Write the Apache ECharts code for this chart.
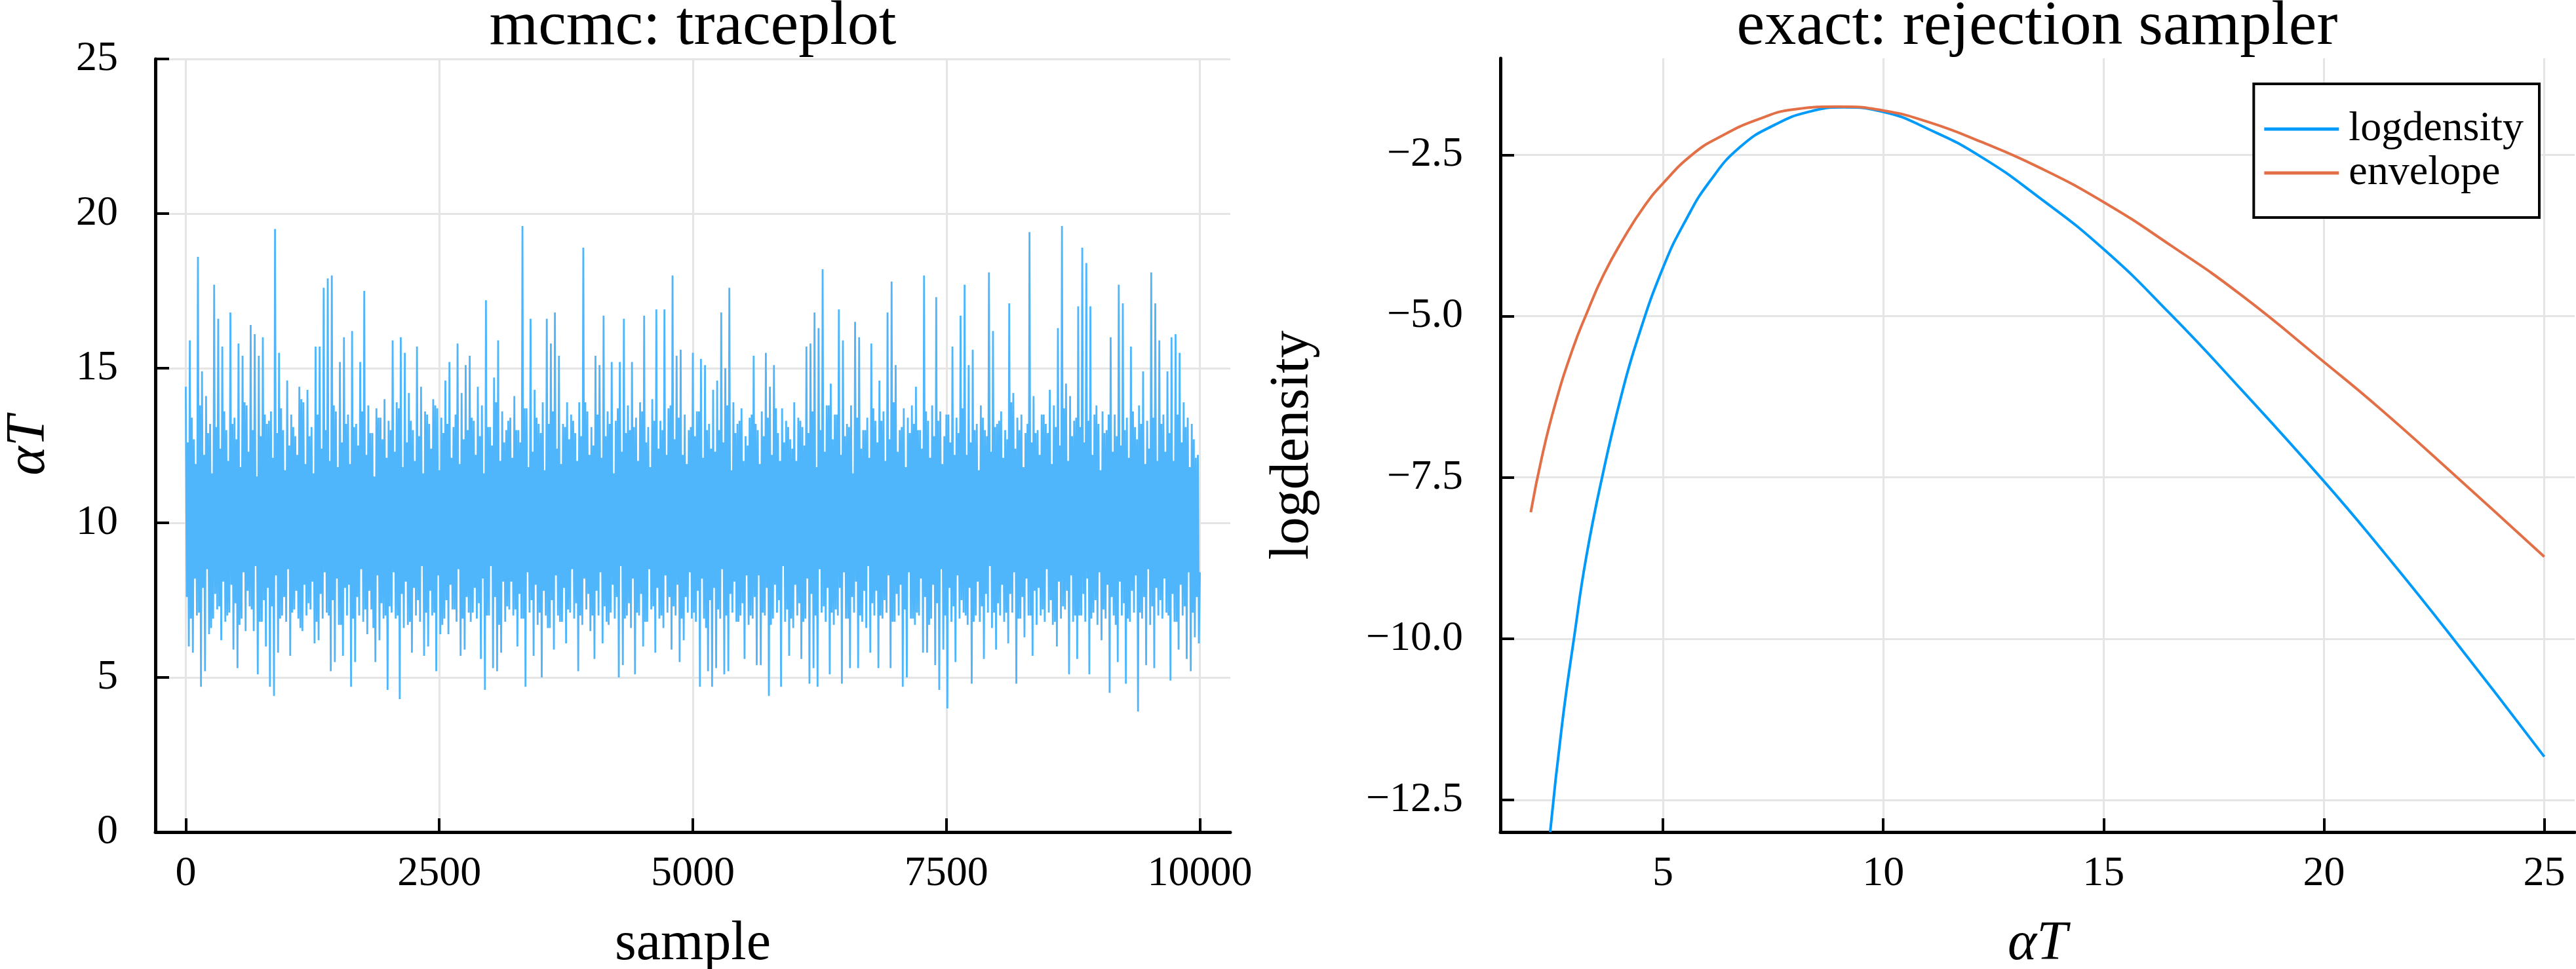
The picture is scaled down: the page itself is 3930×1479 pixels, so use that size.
<!DOCTYPE html>
<html>
<head>
<meta charset="utf-8">
<script src="https://cdn.jsdelivr.net/npm/echarts@6.0.0/dist/echarts.min.js"></script>
<style>
html, body { margin: 0; padding: 0; background: #fff; }
#chart { width: 3930px; height: 1479px; }
</style>
</head>
<body>
<div id="chart"></div>
<script>
// mcmc trace, one value every 10 samples
const traceStep = 10;
const traceValues = [
  14.4,7.6,12.6,6.0, 15.9,6.9,13.4,5.8, 12.7,8.2,11.9,7.0, 18.6,7.1,13.8,4.7, 14.9,7.9,12.2,5.2, 14.1,8.5,12.9,6.4, 13.2,6.6,11.6,6.9, 17.7,7.7,13.1,7.2, 16.6,7.3,12.4,6.2, 15.7,8.1,13.6,6.8,
  13.0,7.0,12.0,7.1, 16.8,8.0,13.2,5.9, 13.4,7.4,12.7,5.3, 15.8,6.7,11.8,6.9, 15.4,8.4,13.9,6.5, 13.8,7.8,12.3,7.3, 16.4,7.2,13.0,6.5, 16.1,8.6,11.5,5.1, 15.4,6.8,12.8,6.8, 16.0,7.5,13.5,6.0,
  13.2,7.9,13.3,4.7, 13.6,7.3,12.1,4.4, 19.5,8.3,12.9,5.8, 15.5,6.9,13.7,7.0, 13.0,7.6,11.7,6.8, 14.6,8.5,12.5,5.7, 13.5,7.1,13.1,7.2, 12.8,7.8,12.2,6.9, 14.4,6.6,14.0,6.5, 13.9,8.0,11.9,7.0,
  14.3,7.4,12.8,7.2, 13.1,8.1,11.6,6.1, 15.7,6.8,13.5,6.2, 15.7,7.7,12.4,6.9, 17.6,8.4,13.0,7.1, 17.9,7.0,12.0,5.2, 18.0,7.5,13.8,5.5, 13.6,8.2,11.8,6.7, 15.2,6.7,12.6,5.7, 16.0,7.9,13.2,7.0,
  13.5,8.0,11.9,4.7, 16.2,6.9,13.1,5.5, 13.2,7.6,12.5,7.0, 15.2,8.5,13.6,6.8, 17.5,7.2,12.2,6.4, 13.8,7.8,12.9,7.2, 12.9,6.6,11.5,5.5, 13.7,8.3,13.4,6.2, 13.4,7.4,12.7,6.9, 14.0,7.0,12.1,4.6,
  13.3,7.3,13.0,7.1, 15.9,8.4,12.3,6.9, 13.9,7.0,13.7,4.3, 16.0,7.7,11.8,6.6, 15.5,8.1,12.6,6.7, 14.2,6.8,13.3,5.8, 13.0,7.9,12.0,7.0, 15.7,7.5,12.8,6.8, 14.4,8.6,11.6,5.7, 13.6,7.1,13.5,6.0,
  13.2,7.8,12.4,7.0, 14.0,7.1,13.8,5.2, 13.7,8.3,11.7,6.4, 13.4,6.7,12.9,6.9, 14.6,7.5,13.2,6.4, 15.2,8.0,12.1,7.2, 13.1,7.2,13.5,6.8, 15.8,8.5,11.9,5.7, 14.2,6.9,12.7,5.9, 15.1,7.6,13.0,7.1,
  15.4,6.8,13.4,7.1, 13.3,7.9,12.2,6.9, 14.4,7.4,12.8,5.6, 13.8,8.2,11.6,4.6, 17.2,7.0,13.1,7.0, 13.1,8.6,12.5,5.3, 14.7,7.6,13.9,5.2, 15.9,6.7,12.0,5.8, 13.6,8.1,12.6,6.8, 13.0,7.3,13.3,7.2,
  13.4,8.1,12.1,7.0, 14.1,7.2,13.0,6.0, 13.0,7.7,12.6,6.9, 19.6,6.9,13.7,4.7, 13.7,8.4,11.8,7.1, 16.6,7.5,12.3,5.7, 14.3,8.0,13.4,6.7, 13.2,7.1,12.9,5.0, 13.9,7.8,11.7,7.0, 16.6,6.6,13.2,6.6,
  15.8,7.5,13.6,5.9, 16.8,8.3,12.4,7.0, 15.4,6.8,11.9,6.8, 13.2,7.9,13.1,6.1, 13.9,7.2,12.7,7.1, 13.5,8.5,13.3,6.9, 12.9,7.4,12.0,5.2, 13.9,7.0,12.8,6.7, 18.9,8.2,13.9,7.2, 13.6,7.7,12.2,6.5,
  13.1,7.0,12.5,5.6, 15.4,7.8,13.5,7.0, 15.1,8.4,12.1,6.1, 16.7,7.3,12.8,6.8, 13.6,6.7,13.2,7.1, 15.2,8.0,11.6,6.9, 13.3,7.6,13.7,5.0, 15.2,8.6,12.3,5.4, 16.6,6.9,12.9,7.0, 13.8,7.4,13.0,6.6,
  15.2,8.2,13.1,5.1, 13.4,7.1,12.0,7.0, 13.9,7.7,13.6,6.0, 16.7,6.8,12.6,6.8, 13.1,8.5,11.8,7.2, 14.0,7.3,13.3,5.8, 16.9,7.9,12.4,6.9, 13.3,7.0,13.0,6.6, 16.9,8.3,12.2,7.1, 13.7,7.6,13.8,5.9,
  18.0,7.3,12.7,7.0, 15.4,8.0,13.4,5.5, 15.6,6.9,12.2,6.2, 13.5,7.6,11.9,7.1, 13.0,8.4,13.1,6.9, 15.5,7.1,12.8,6.8, 13.6,7.8,13.6,4.7, 15.3,8.2,12.1,6.9, 15.1,6.6,13.0,5.2, 13.2,7.5,12.4,4.7,
  14.3,7.9,12.3,5.3, 14.6,7.2,13.0,6.9, 16.8,8.5,12.6,5.1, 15.0,7.0,13.8,5.2, 17.6,7.7,11.7,7.1, 13.9,8.1,12.9,6.8, 13.2,6.8,13.3,7.0, 13.7,7.4,12.0,5.6, 12.8,8.3,12.5,6.7, 13.4,7.0,13.5,6.9,
  15.4,7.6,13.2,5.4, 13.0,8.3,11.9,5.4, 13.6,7.1,12.8,7.0, 15.5,7.9,13.4,4.4, 14.4,6.7,12.2,6.9, 15.1,8.0,13.7,7.1, 12.9,7.5,12.0,4.7, 13.7,8.6,12.6,6.8, 13.3,7.2,13.1,5.7, 12.7,6.9,12.4,6.6,
  13.9,8.0,12.0,7.0, 13.4,7.4,13.3,5.6, 13.1,6.8,12.5,6.9, 15.7,8.2,12.9,4.8, 15.8,7.7,13.6,5.3, 16.8,7.0,11.8,4.7, 16.3,8.5,13.0,7.1, 18.2,7.3,12.3,6.8, 13.8,7.9,13.8,5.1, 14.5,7.1,12.7,6.7,
  13.5,7.2,13.5,7.0, 16.9,7.9,12.2,4.8, 15.9,8.4,12.8,6.9, 13.2,6.9,13.1,5.3, 13.8,7.6,11.6,7.1, 16.5,8.1,13.4,5.3, 16.0,7.0,12.4,6.8, 13.0,7.8,13.0,6.6, 13.4,8.6,12.1,5.8, 15.8,7.4,13.7,7.0,
  13.3,7.8,12.6,5.3, 14.6,7.0,13.3,6.9, 13.6,7.5,12.0,7.1, 16.8,8.3,12.7,5.3, 17.8,6.8,13.9,6.8, 15.1,7.7,12.3,7.0, 13.0,8.0,13.1,4.7, 13.7,7.2,11.8,5.0, 13.4,8.4,12.9,6.9, 13.8,6.9,13.2,6.7,
  14.4,7.1,13.0,7.0, 13.0,8.2,12.4,5.8, 18.0,7.6,13.6,5.8, 13.3,6.7,12.1,6.9, 13.8,8.0,12.8,5.4, 17.3,7.4,13.3,4.6, 13.6,8.5,11.9,5.9, 12.8,7.0,13.5,4.0, 13.5,7.9,12.6,6.8, 15.7,7.3,12.2,5.5,
  13.4,8.3,12.9,6.9, 16.7,7.5,13.7,7.1, 17.7,7.0,12.2,6.7, 15.1,7.9,12.6,4.8, 15.6,6.8,13.0,7.0, 13.2,8.1,11.7,6.8, 13.8,7.3,13.4,5.6, 13.0,7.7,12.8,7.1, 18.1,8.6,12.3,6.6, 16.2,7.1,13.1,5.9,
  13.2,7.4,13.3,7.0, 13.6,8.0,12.1,6.8, 13.0,7.1,12.7,6.1, 17.1,7.7,13.9,7.1, 14.2,8.4,12.4,4.8, 13.4,6.9,13.0,6.9, 13.5,7.6,11.8,6.3, 12.9,8.2,13.2,7.0, 19.4,7.0,12.6,5.7, 14.1,7.8,12.9,6.7,
  13.0,7.9,12.2,7.0, 13.5,7.2,13.5,6.8, 13.2,8.5,12.9,7.1, 14.3,7.5,11.9,6.7, 13.8,6.8,13.1,6.0, 16.3,8.1,12.5,6.9, 19.6,7.3,13.7,7.2, 14.5,7.8,12.0,5.1, 14.1,8.3,12.8,6.8, 13.3,7.0,13.4,5.6,
  17.0,7.0,13.1,7.0, 18.9,7.7,12.6,6.8, 18.4,8.2,13.3,5.1, 17.0,6.9,12.2,7.1, 13.5,7.5,13.8,6.7, 13.2,8.4,11.7,6.2, 13.6,7.2,12.9,6.9, 13.0,8.0,13.5,4.5, 16.0,7.6,12.3,7.0, 13.5,6.7,12.8,5.5,
  17.7,8.1,12.5,7.0, 17.1,7.4,13.0,4.8, 13.4,6.9,12.1,6.8, 15.7,7.8,13.6,7.1, 13.1,8.3,12.7,3.9, 13.8,7.1,13.2,6.9, 14.9,7.6,11.9,5.4, 13.3,8.5,12.4,6.7, 18.1,7.3,13.4,5.3, 17.1,7.9,12.0,7.0,
  15.9,7.5,13.2,6.9, 13.5,8.2,12.3,7.1, 14.9,7.0,12.9,4.9, 16.0,7.7,12.0,6.8, 16.1,6.8,13.5,5.9, 15.5,8.0,12.6,7.0, 13.9,7.3,13.1,5.6, 13.4,8.4,11.8,5.2, 13.2,7.1,12.7,6.3, 12.1,7.6,12.2,6.1,
  8.4
];
const sampleTicks = [0, 2500, 5000, 7500, 10000];

// rejection sampler curves
const logX = [2.44, 2.71, 2.99, 3.26, 3.65, 4.04, 4.42, 5.0, 5.51, 6.06, 6.76, 7.54, 8.31, 9.09, 10.0, 11.03, 12.2, 13.5, 15.0, 16.52, 18.1, 20.0, 21.25, 22.83, 25.0];
const logY = [-13.0, -11.33, -9.95, -8.73, -7.40, -6.27, -5.36, -4.25, -3.52, -2.91, -2.37, -2.03, -1.83, -1.76, -1.83, -2.10, -2.52, -3.14, -3.96, -4.97, -6.12, -7.56, -8.57, -9.91, -11.83];
const envX = [2.0, 2.25, 2.56, 2.95, 3.26, 3.65, 4.11, 4.58, 5.0, 5.67, 6.29, 7.15, 8.0, 8.97, 10.0, 11.03, 12.2, 13.5, 15.0, 16.52, 18.1, 20.0, 21.25, 22.83, 25.0];
const envY = [-8.04, -7.19, -6.35, -5.51, -4.97, -4.36, -3.79, -3.29, -2.94, -2.49, -2.22, -1.95, -1.79, -1.75, -1.81, -1.99, -2.29, -2.68, -3.23, -3.90, -4.66, -5.71, -6.42, -7.38, -8.73];
const alphaTicks = [5, 10, 15, 20, 25];
const logTicks = [-12.5, -10, -7.5, -5, -2.5];

const FONT = "'Liberation Serif', 'DejaVu Serif', serif";

function axisBase(extra) {
    return Object.assign({
        type: 'value',
        axisLine: { show: true, onZero: false, lineStyle: { color: '#000', width: 5 } },
        axisTick: { show: true, inside: true, length: 21, lineStyle: { color: '#000', width: 4 } },
        axisLabel: { color: '#000', fontSize: 64, fontFamily: FONT },
        splitLine: { show: true, lineStyle: { color: '#e5e5e5', width: 3 } },
        nameLocation: 'middle',
        nameMoveOverlap: false,
        nameTextStyle: { color: '#000', fontSize: 84, fontFamily: FONT }
    }, extra);
}

function minusFmt(v) {
    return (v < 0 ? '\u2212' : '') + Math.abs(v).toFixed(1);
}

var myChart = echarts.init(document.getElementById('chart'), null, { renderer: 'canvas' });
let option = {
    animation: false,
    backgroundColor: '#fff',
    grid: [
        { left: 237, top: 90, width: 1640, height: 1180, containLabel: false, outerBoundsMode: 'none' },
        { left: 2289, top: 89, width: 1639, height: 1181, containLabel: false, outerBoundsMode: 'none' }
    ],
    graphic: [
        { type: 'text', x: 1057, y: 42, style: { text: 'mcmc: traceplot', font: '96px ' + FONT, fill: '#000', align: 'center', verticalAlign: 'middle', textAlign: 'center', textVerticalAlign: 'middle' } },
        { type: 'text', x: 3108, y: 42, style: { text: 'exact: rejection sampler', font: '96px ' + FONT, fill: '#000', align: 'center', verticalAlign: 'middle', textAlign: 'center', textVerticalAlign: 'middle' } }
    ],
    legend: {
        data: ['logdensity', 'envelope'],
        orient: 'vertical',
        right: 56,
        top: 128,
        padding: [37, 24, 36, 16],
        itemGap: 3,
        itemWidth: 114,
        itemHeight: 5,
        icon: 'rect',
        borderColor: '#000',
        borderWidth: 4,
        borderRadius: 0,
        backgroundColor: '#fff',
        selectedMode: false,
        textStyle: { color: '#000', fontSize: 64, lineHeight: 64, fontFamily: FONT, padding: [0, 0, 0, 10] }
    },
    xAxis: [
        axisBase({
            gridIndex: 0, min: -300, max: 10300,
            axisTick: { show: true, inside: true, length: 21, customValues: sampleTicks, lineStyle: { color: '#000', width: 4 } },
            axisLabel: { color: '#000', fontSize: 64, fontFamily: FONT, margin: 32, customValues: sampleTicks, formatter: v => String(v) },
            name: 'sample', nameGap: 130
        }),
        axisBase({
            gridIndex: 1, min: 1.31, max: 25.69,
            axisTick: { show: true, inside: true, length: 21, customValues: alphaTicks, lineStyle: { color: '#000', width: 4 } },
            axisLabel: { color: '#000', fontSize: 64, fontFamily: FONT, margin: 32, customValues: alphaTicks, formatter: v => String(v) },
            name: '\u03b1T', nameGap: 130,
            nameTextStyle: { color: '#000', fontSize: 84, fontFamily: FONT, fontStyle: 'italic' }
        })
    ],
    yAxis: [
        axisBase({
            gridIndex: 0, min: 0, max: 25, interval: 5,
            axisLabel: { color: '#000', fontSize: 64, fontFamily: FONT, margin: 57 },
            name: '\u03b1T', nameRotate: 90, nameGap: 150,
            nameTextStyle: { color: '#000', fontSize: 84, fontFamily: FONT, fontStyle: 'italic' }
        }),
        axisBase({
            gridIndex: 1, min: -13, max: -1,
            axisTick: { show: true, inside: true, length: 21, customValues: logTicks, lineStyle: { color: '#000', width: 4 } },
            axisLabel: { color: '#000', fontSize: 64, fontFamily: FONT, margin: 57, customValues: logTicks, formatter: minusFmt },
            name: 'logdensity', nameRotate: 90, nameGap: 274
        })
    ],
    series: [
        {
            name: 'trace', type: 'line', xAxisIndex: 0, yAxisIndex: 0,
            data: traceValues.map((v, i) => [i * traceStep, v]),
            symbol: 'none', showSymbol: false, silent: true,
            lineStyle: { color: '#4fb6fb', width: 2.8 },
            itemStyle: { color: '#4fb6fb' }
        },
        {
            name: 'logdensity', type: 'line', xAxisIndex: 1, yAxisIndex: 1,
            data: logX.map((x, i) => [x, logY[i]]),
            symbol: 'none', showSymbol: false, smooth: 0.5,
            lineStyle: { color: '#009afa', width: 4 },
            itemStyle: { color: '#009afa' }
        },
        {
            name: 'envelope', type: 'line', xAxisIndex: 1, yAxisIndex: 1,
            data: envX.map((x, i) => [x, envY[i]]),
            symbol: 'none', showSymbol: false, smooth: 0.5,
            lineStyle: { color: '#e26f46', width: 4 },
            itemStyle: { color: '#e26f46' }
        }
    ]
};
myChart.setOption(option);
</script>
</body>
</html>
